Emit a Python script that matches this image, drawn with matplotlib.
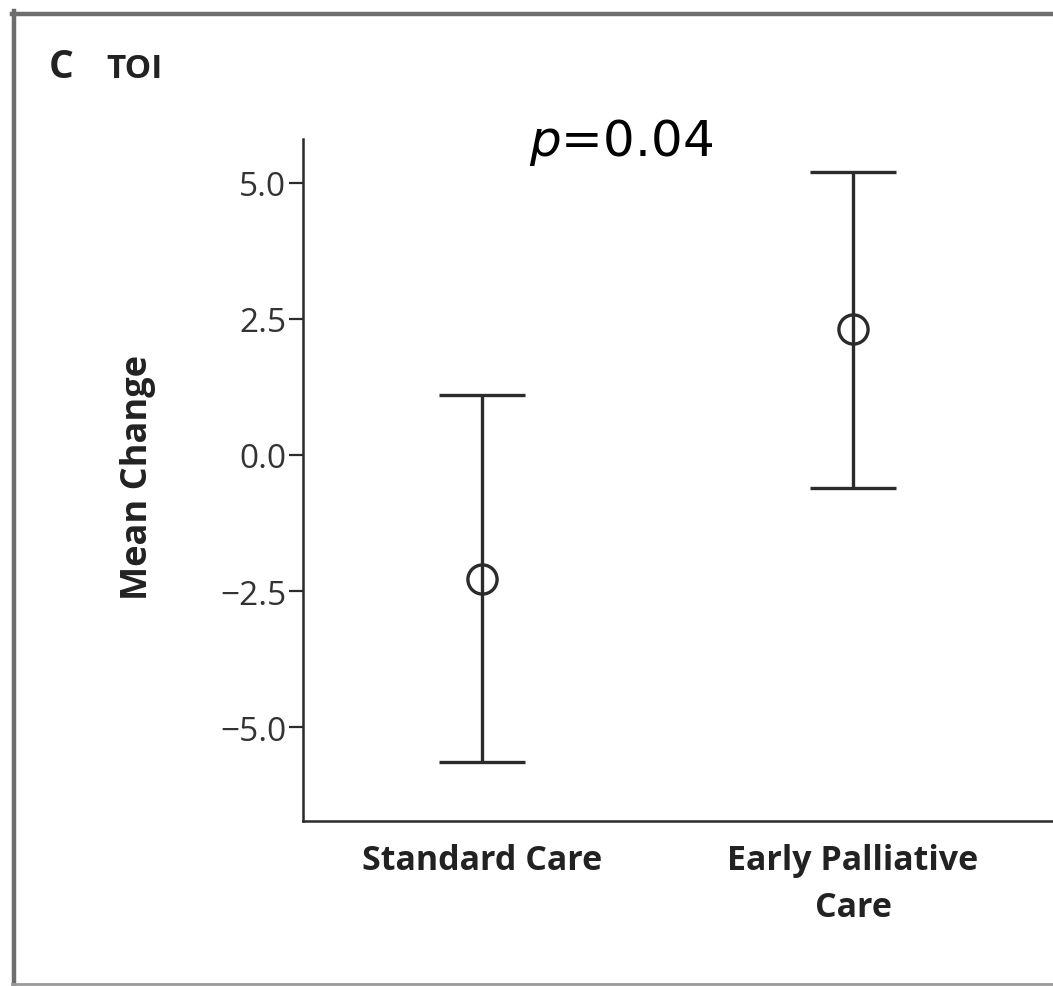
import matplotlib
matplotlib.use("Agg")
import matplotlib.pyplot as plt
from matplotlib.lines import Line2D

categories = ["Standard Care", "Early Palliative\nCare"]
means = [-2.28, 2.31]
upper = [1.10, 5.19]
lower = [-5.63, -0.61]
yticks = [5.0, 2.5, 0.0, -2.5, -5.0]
ytick_labels = ["5.0", "2.5", "0.0", "\u22122.5", "\u22125.0"]

W, H = 1053, 987
fig = plt.figure(figsize=(W / 100, H / 100), dpi=100)
fig.patch.set_facecolor("white")

# panel frame (gray)
frame_col = "#6e6e6e"
fig.add_artist(Line2D([14 / W, 14 / W], [1 - 12 / H, 1 - 986 / H], color=frame_col, lw=3.2, transform=fig.transFigure))
fig.add_artist(Line2D([12 / W, 1.0], [1 - 15 / H, 1 - 15 / H], color=frame_col, lw=3.2, transform=fig.transFigure))
fig.add_artist(Line2D([12 / W, 1.0], [1 - 985 / H, 1 - 985 / H], color="#9a9a9a", lw=2.0, transform=fig.transFigure))

ax = fig.add_axes([303 / W, 1 - 822 / H, 1 - 303 / W, (822 - 140) / H])
x = list(range(len(categories)))
yerr = [[m - l for m, l in zip(means, lower)], [u - m for m, u in zip(means, upper)]]
ax.errorbar(x, means, yerr=yerr, fmt="o", color="#2b2b2b", ecolor="#2b2b2b",
            elinewidth=2.4, capsize=31, capthick=2.4, markersize=21,
            markerfacecolor="none", markeredgewidth=2.4, markeredgecolor="#2b2b2b")

ax.set_xlim(-0.4825, 1.539)
ax.set_ylim(-6.72, 5.80)
ax.spines["top"].set_visible(False)
ax.spines["right"].set_visible(False)
for s in ["left", "bottom"]:
    ax.spines[s].set_linewidth(1.8)
    ax.spines[s].set_color("#2b2b2b")

lab_font = "Open Sans"
ax.set_yticks(yticks)
ax.set_yticklabels(ytick_labels, fontsize=24, family=lab_font, color="#333333")
ax.tick_params(axis="y", direction="out", length=10, width=1.6, color="#2b2b2b", pad=2)
ax.set_xticks(x)
ax.set_xticklabels(categories, fontsize=24.5, family=lab_font, fontweight="bold",
                   color="#222222", linespacing=1.5)
ax.tick_params(axis="x", length=0, pad=16)

fig.text(138 / W, 1 - 478 / H, "Mean Change", rotation=90, ha="center", va="center",
         fontsize=26, family=lab_font, fontweight="bold", color="#222222")

fig.text(49 / W, 1 - 78 / H, "C", fontsize=28, family=lab_font, fontweight="bold",
         color="#222222", ha="left", va="baseline")
fig.text(106 / W, 1 - 78 / H, "TOI", fontsize=24, family=lab_font, fontweight="bold",
         color="#222222", ha="left", va="baseline")

fig.text(621 / W, 1 - 142 / H, "$p$=0.04", fontsize=36, family="DejaVu Sans",
         color="black", ha="center", va="center")

fig.savefig("out.png", dpi=100, facecolor="white")
